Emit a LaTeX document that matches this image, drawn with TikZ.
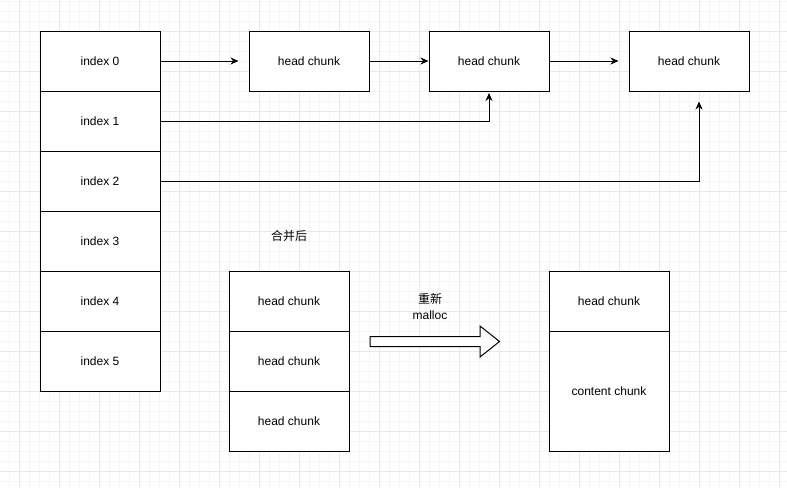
\documentclass[tikz,border=0pt]{standalone}
\usepackage{fontspec}
\setmainfont{Liberation Sans}
\newfontfamily\cjk{Noto Sans CJK SC}
\usetikzlibrary{arrows.meta}
\usetikzlibrary{calc}

\tikzset{
  cell/.style={draw=black, line width=1pt, fill=white, minimum width=120pt, minimum height=60pt, inner sep=0pt, font=\fontsize{12}{14}\selectfont},
  link/.style={line width=1pt, -{Stealth[length=8pt,width=7pt]}},
  minorline/.style={draw=black!4, line width=0.8pt},
  majorline/.style={draw=black!9, line width=1pt},
  caption/.style={font=\fontsize{12}{16}\selectfont, inner sep=0pt, align=center}
}

\begin{document}
\begin{tikzpicture}[x=1pt, y=-1pt]
          \useasboundingbox (0,0) rectangle (787,488);
          \fill [white] (0,0) rectangle (787,488);

          % grid of the canvas
          \foreach \x in {9.5,19.5,...,779.5} \draw [minorline] (\x,0) -- (\x,488);
          \foreach \y in {1.5,11.5,...,481.5} \draw [minorline] (0,\y) -- (787,\y);
          \foreach \x in {19.5,59.5,...,779.5} \draw [majorline] (\x,0) -- (\x,488);
          \foreach \y in {31.5,71.5,...,471.5} \draw [majorline] (0,\y) -- (787,\y);

          % index column
          \node [cell] (idx0) at (100,61) {index 0};
          \node [cell] (idx1) at (100,121) {index 1};
          \node [cell] (idx2) at (100,181) {index 2};
          \node [cell] (idx3) at (100,241) {index 3};
          \node [cell] (idx4) at (100,301) {index 4};
          \node [cell] (idx5) at (100,361) {index 5};

          % head chunks on the top row
          \node [cell] (head1) at (309,61) {head chunk};
          \node [cell] (head2) at (489,61) {head chunk};
          \node [cell] (head3) at (689,61) {head chunk};

          \draw [link, shorten >=10pt] (idx0.east) -- (head1.west);
          \draw [link] (head1.east) -- (head2.west);
          \draw [link, shorten >=10pt] (head2.east) -- (head3.west);
          \draw [link, shorten >=1.5pt] (idx1.east) -| (head2.south);
          \draw [link, shorten >=10pt] (idx2.east) -| ($(head3.south)+(10,0)$);

          % after merging
          \node [caption] (merged) at (289,236) {\cjk 合并后};
          \node [cell] (mid0) at (289,301) {head chunk};
          \node [cell] (mid1) at (289,361) {head chunk};
          \node [cell] (mid2) at (289,421) {head chunk};

          \node [caption] (again) at (430,306) {{\cjk 重新}\\malloc};
          \draw [line width=1pt, fill=white] (370,336.5) -- (480,336.5) -- (480,326) -- (499.5,341.5)
                -- (480,357) -- (480,346.5) -- (370,346.5) -- cycle;

          \node [cell] (new0) at (609,301) {head chunk};
          \node [cell, minimum height=120pt] (new1) at (609,391) {content chunk};
        \end{tikzpicture}
\end{document}
